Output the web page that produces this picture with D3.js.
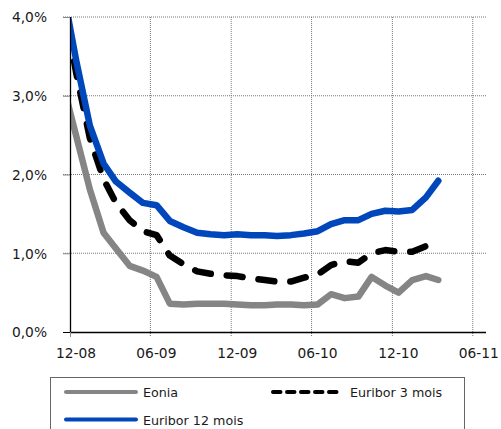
<!DOCTYPE html>
<html>
<head>
<meta charset="utf-8">
<script src="https://cdn.jsdelivr.net/npm/d3@7"></script>
<style>
  body { margin: 0; background: #fff; }
  text { font-family: "DejaVu Sans", sans-serif; fill: #1a1a1a; }
</style>
</head>
<body>
<div id="chart"></div>
<script>
const F_WIDTH = 501;
const F_HEIGHT = 429;
const MARGINS = {left: 70, right: 15, top: 17, bottom: 97};

const VIS_WIDTH = F_WIDTH - MARGINS.left - MARGINS.right;
const VIS_HEIGHT = F_HEIGHT - MARGINS.top - MARGINS.bottom;

// monthly averages, plotted at mid-month
const MONTHS = ["2008-11", "2008-12",
  "2009-01", "2009-02", "2009-03", "2009-04", "2009-05", "2009-06",
  "2009-07", "2009-08", "2009-09", "2009-10", "2009-11", "2009-12",
  "2010-01", "2010-02", "2010-03", "2010-04", "2010-05", "2010-06",
  "2010-07", "2010-08", "2010-09", "2010-10", "2010-11", "2010-12",
  "2011-01", "2011-02", "2011-03"];

const EONIA = [3.15, 2.49,
  1.81, 1.26, 1.06, 0.84, 0.78, 0.70,
  0.36, 0.35, 0.36, 0.36, 0.36, 0.35,
  0.34, 0.34, 0.35, 0.35, 0.34, 0.35,
  0.48, 0.43, 0.45, 0.70, 0.59, 0.50,
  0.66, 0.71, 0.66];

const EURIBOR_3M = [4.24, 3.29,
  2.46, 1.94, 1.64, 1.42, 1.28, 1.23,
  0.97, 0.86, 0.77, 0.74, 0.72, 0.71,
  0.68, 0.66, 0.64, 0.64, 0.69, 0.73,
  0.85, 0.90, 0.88, 1.00, 1.04, 1.02,
  1.02, 1.09, 1.18];

const EURIBOR_12M = [4.35, 3.45,
  2.62, 2.14, 1.91, 1.77, 1.64, 1.61,
  1.41, 1.33, 1.26, 1.24, 1.23, 1.24,
  1.23, 1.23, 1.22, 1.23, 1.25, 1.28,
  1.37, 1.42, 1.42, 1.50, 1.54, 1.53,
  1.55, 1.71, 1.92];

const X_TICKS = ["2008-12", "2009-06", "2009-12", "2010-06", "2010-12", "2011-06"];
const Y_TICKS = [0, 1, 2, 3, 4];

const SERIES_NAMES = ["Eonia", "Euribor 3 mois", "Euribor 12 mois"];

const parseMonth = d3.timeParse("%Y-%m");
const midMonth = (m) => d3.timeDay.offset(parseMonth(m), 14);

const FRAME = d3.select("#chart")
  .append("svg")
    .attr("width", F_WIDTH)
    .attr("height", F_HEIGHT);

const X_SCALE = d3.scaleTime()
  .domain([parseMonth("2008-12"), parseMonth("2011-07")])
  .range([0, VIS_WIDTH]);

const Y_SCALE = d3.scaleLinear()
  .domain([0, 4])
  .range([VIS_HEIGHT, 0]);

const PLOT = FRAME.append("g")
  .attr("transform", "translate(" + MARGINS.left + "," + MARGINS.top + ")");

// dotted grid
PLOT.append("g")
  .selectAll("line")
  .data(Y_TICKS.slice(1))
  .enter()
  .append("line")
    .attr("x1", -7)
    .attr("x2", VIS_WIDTH)
    .attr("y1", (d) => Y_SCALE(d))
    .attr("y2", (d) => Y_SCALE(d))
    .style("stroke", "#777")
    .style("stroke-dasharray", "1,1");

PLOT.append("g")
  .selectAll("line")
  .data(X_TICKS.slice(1))
  .enter()
  .append("line")
    .attr("x1", (d) => X_SCALE(parseMonth(d)))
    .attr("x2", (d) => X_SCALE(parseMonth(d)))
    .attr("y1", 0)
    .attr("y2", VIS_HEIGHT + 5)
    .style("stroke", "#777")
    .style("stroke-dasharray", "1,1");

// clip lines to the plot area
FRAME.append("defs").append("clipPath")
  .attr("id", "plotclip")
  .append("rect")
    .attr("x", 0)
    .attr("y", 0)
    .attr("width", VIS_WIDTH)
    .attr("height", VIS_HEIGHT);

const LINES = [
  {values: EONIA, color: "#858585", width: 6.5, dash: null},
  {values: EURIBOR_3M, color: "#000", width: 6.5, dash: "16,16"},
  {values: EURIBOR_12M, color: "#0047BB", width: 6.5, dash: null}
];

const lineGen = d3.line()
  .x((d) => X_SCALE(d.date))
  .y((d) => Y_SCALE(d.value));

const LINE_G = PLOT.append("g").attr("clip-path", "url(#plotclip)");

LINES.forEach((s) => {
  const pts = MONTHS.map((m, i) => ({date: midMonth(m), value: s.values[i]}));
  LINE_G.append("path")
    .datum(pts)
    .attr("d", lineGen)
    .style("fill", "none")
    .style("stroke", s.color)
    .style("stroke-width", s.width)
    .style("stroke-linejoin", "round")
    .style("stroke-linecap", "round")
    .style("stroke-dasharray", s.dash);
});

// axes
const yAxis = PLOT.append("g")
  .call(d3.axisLeft(Y_SCALE)
    .tickValues(Y_TICKS)
    .tickSize(7)
    .tickPadding(16)
    .tickFormat((d) => d3.format(".1f")(d).replace(".", ",") + "%"));

const xAxis = PLOT.append("g")
  .attr("transform", "translate(0," + VIS_HEIGHT + ")")
  .call(d3.axisBottom(X_SCALE)
    .tickValues(X_TICKS.map(parseMonth))
    .tickSize(5)
    .tickPadding(21)
    .tickFormat(d3.timeFormat("%m-%y")));

xAxis.select(".domain").attr("d", "M0,0.5H" + VIS_WIDTH);
yAxis.select(".domain").attr("d", "M0.5,0V" + VIS_HEIGHT);

[xAxis, yAxis].forEach((ax) => {
  ax.select(".domain").style("stroke", "#000").style("stroke-width", 1.3);
  ax.selectAll(".tick line").style("stroke", "#888");
  ax.selectAll("text")
    .style("font-family", "'DejaVu Sans', sans-serif")
    .style("font-size", "13.8px")
    .style("fill", "#1a1a1a");
});
yAxis.selectAll(".tick text").attr("dy", "0.36em");
xAxis.selectAll(".tick text").attr("dx", 5.5).attr("dy", "0");
xAxis.selectAll(".tick").filter((d, i) => i > 0).select("line").remove();
yAxis.selectAll(".tick").filter((d) => d == 0).select("line").style("stroke", "#000");

// legend
const LEGEND = FRAME.append("g");

LEGEND.append("rect")
  .attr("x", 50.5)
  .attr("y", 377.5)
  .attr("width", 414)
  .attr("height", 80)
  .style("fill", "#fff")
  .style("stroke", "#666");

const LEG_POS = [[66, 392], [273, 392], [66, 419.5]];
const LEG_STYLE = [
  {color: "#858585", dash: null},
  {color: "#000", dash: "7.5,6.5"},
  {color: "#0047BB", dash: null}
];

SERIES_NAMES.forEach((name, i) => {
  const [lx, ly] = LEG_POS[i];
  LEGEND.append("line")
    .attr("x1", lx)
    .attr("x2", lx + 70)
    .attr("y1", ly)
    .attr("y2", ly)
    .style("stroke", LEG_STYLE[i].color)
    .style("stroke-width", 4)
    .style("stroke-linecap", "round")
    .style("stroke-dasharray", LEG_STYLE[i].dash);
  LEGEND.append("text")
    .attr("x", lx + 77)
    .attr("y", ly + 5)
    .style("font-size", "12.7px")
    .text(name);
});
</script>
</body>
</html>
